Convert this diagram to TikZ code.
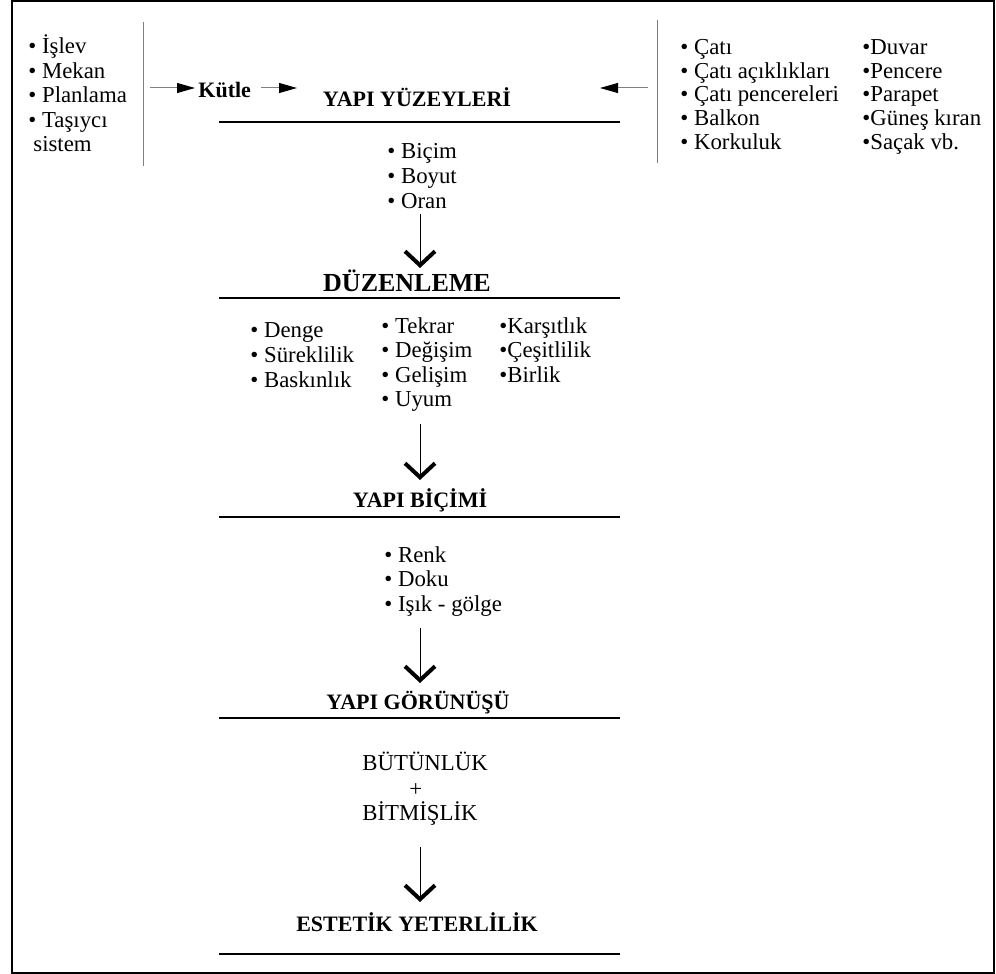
\documentclass[tikz,border=0pt]{standalone}
\usepackage{fontspec}
\setmainfont{Liberation Serif}
\usetikzlibrary{arrows.meta}

\tikzset{
  item/.style={font=\fontsize{11.4}{12}\selectfont, anchor=base west, inner sep=0pt},
  head/.style={font=\fontsize{11}{12}\selectfont\bfseries, anchor=base, inner sep=0pt},
  rule/.style={line width=0.8pt},
  sep/.style={gray, line width=0.5pt},
  down/.style={line width=0.5pt, -{Straight Barb[length=7pt,width=15pt,line width=2pt]}},
  side/.style={gray, line width=0.5pt, -{Triangle[length=9pt,width=5pt,color=black]}},
}

\begin{document}
\begin{tikzpicture}[x=0.5pt, y=-0.5pt]
\useasboundingbox (0,0) rectangle (996,974);
\draw [line width=1pt] (12,1) rectangle (994,973);

% left block
\foreach \t [count=\i] in {\.{I}şlev, Mekan, Planlama, Taşıycı}
  \node [item] (fn\i) at (28, 54+24.5*\i-24.5) {\textbullet\ \t};
\node [item] (fn5) at (33,152) {sistem};
\draw [sep] (143,22) -- (143,166);

\node [head, anchor=west] (kut) at (198,90) {Kütle};
\draw [side, shorten >=1.5pt] (150,88) -- ([yshift=1pt]kut.west);
\coordinate (k2) at (297,88);
\draw [side] ([xshift=5pt,yshift=1pt]kut.east) -- (k2);

% right block
\draw [sep] (657,20) -- (657,163);
\coordinate (r1) at (648,88);
\coordinate (r2) at (600,88);
\draw [side] (r1) -- (r2);
\foreach \t [count=\i] in {Çatı, Çatı açıklıkları, Çatı pencereleri, Balkon, Korkuluk}
  \node [item] (ra\i) at (680, 55+23.5*\i-23.5) {\textbullet\ \t};
\foreach \t [count=\i] in {Duvar, Pencere, Parapet, Güneş kıran, Saçak vb.}
  \node [item] (rb\i) at (862, 55+23.5*\i-23.5) {\textbullet\t};

% YAPI YUZEYLERI
\node [head] (yuz) at (417,107) {YAPI YÜZEYLER\.{I}};
\draw [rule] (219,122) -- (620,122);
\foreach \t [count=\i] in {Biçim, Boyut, Oran}
  \node [item] (bc\i) at (387, 159+24.5*\i-24.5) {\textbullet\ \t};
\coordinate (a1) at (420,214);
\coordinate (b1) at (420,268);
\draw [down] (a1) -- (b1);

% DUZENLEME
\node [head, font=\fontsize{13}{14}\selectfont\bfseries] (duz) at (407,291) {DÜZENLEME};
\draw [rule] (219,298) -- (620,298);
\foreach \t [count=\i] in {Denge, Süreklilik, Baskınlık}
  \node [item] (da\i) at (250, 337+25*\i-25) {\textbullet\ \t};
\foreach \t [count=\i] in {Tekrar, Değişim, Gelişim, Uyum}
  \node [item] (db\i) at (381, 333+24.5*\i-24.5) {\textbullet\ \t};
\foreach \t [count=\i] in {Karşıtlık, Çeşitlilik, Birlik}
  \node [item] (dc\i) at (499, 333+24.5*\i-24.5) {\textbullet\t};
\coordinate (a2) at (420,424);
\coordinate (b2) at (420,480);
\draw [down] (a2) -- (b2);

% YAPI BICIMI
\node [head] (bic) at (420,507) {YAPI B\.{I}Ç\.{I}M\.{I}};
\draw [rule] (219,517) -- (620,517);
\foreach \t [count=\i] in {Renk, Doku, Işık - gölge}
  \node [item] (rk\i) at (384, 562+24.5*\i-24.5) {\textbullet\ \t};
\coordinate (a3) at (420,628);
\coordinate (b3) at (420,683);
\draw [down] (a3) -- (b3);

% YAPI GORUNUSU
\node [head] (gor) at (418,709) {YAPI GÖRÜNÜŞÜ};
\draw [rule] (219,718) -- (620,718);
\node [item] (but) at (362,770) {BÜTÜNLÜK};
\node [item] (plus) at (409,796) {+};
\node [item] (bit) at (362,820) {B\.{I}TM\.{I}ŞL\.{I}K};
\coordinate (a4) at (420,847);
\coordinate (b4) at (420,902);
\draw [down] (a4) -- (b4);

% ESTETIK YETERLILIK
\node [head] (est) at (417,931) {ESTET\.{I}K YETERL\.{I}L\.{I}K};
\draw [rule] (219,954) -- (620,954);
\end{tikzpicture}
\end{document}
